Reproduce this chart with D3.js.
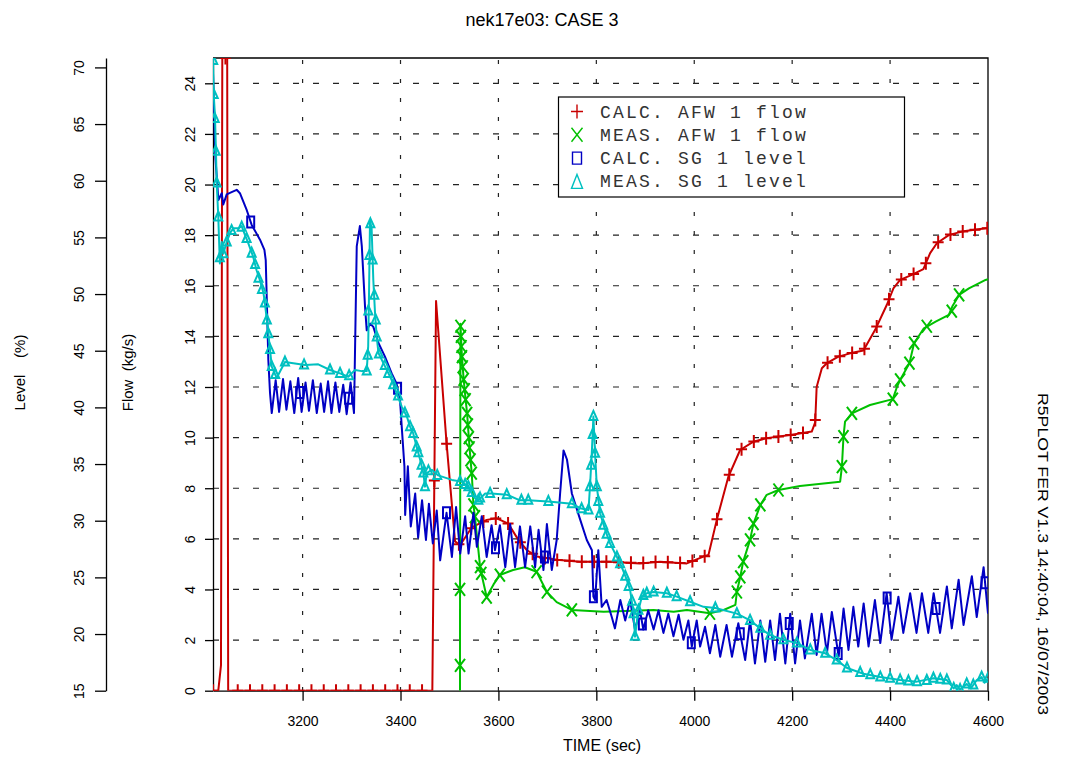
<!DOCTYPE html>
<html lang="en">
<head>
<meta charset="UTF-8">
<title>nek17e03: CASE 3</title>
<script src="https://cdn.jsdelivr.net/npm/d3@7"></script>
<style>
    body { margin: 0; background: #ffffff; }
    svg text { font-family: "Liberation Sans", Arial, sans-serif; fill: #000; }
</style>
</head>
<body>
<script>
    // ---- data: [time (s), value] ----
    // CALC. AFW 1 flow (kg/s)
    var calcFlow = [[3017,0],[3027.8,0],[3033.3,1],[3036,25],[3046,25],[3048,0],[3465,0],[3472.6,15.4],
        [3494,9.8],[3511.4,5.9],[3521.6,5.75],[3545.5,6.45],[3576,6.75],[3596.6,6.81],[3620.3,6.6],
        [3640.7,5.96],[3657.9,5.56],[3678.3,5.3],[3719,5.17],[3766.8,5.1],[3828,5.1],[3889,5.03],
        [3930,5.1],[3984.8,5.03],[4018.7,5.3],[4029,5.36],[4046,6.75],[4069.8,8.46],[4093.7,9.51],
        [4121,9.84],[4148,9.98],[4196,10.1],[4240,10.24],[4247,10.6],[4250,12.0],[4260.6,12.74],
        [4270.8,12.94],[4294.5,13.2],[4320.4,13.34],[4345.5,13.44],[4369.5,14.26],[4393.4,15.25],
        [4406.8,15.9],[4420.5,16.23],[4444.4,16.43],[4468,16.66],[4481.8,17.29],[4495.5,17.68],
        [4520.6,18.01],[4547,18.14],[4572.3,18.21],[4600,18.28]];

    // MEAS. AFW 1 flow (kg/s)
    var measFlow = [[3521.5,0],[3521.6,4.0],[3522.5,14.5],[3523.5,14.0],[3525.5,13.2],[3529,12.3],
        [3533,11.5],[3536,10.96],[3539.5,10.0],[3543,9.12],[3545.5,8.6],[3549,7.34],[3552,6.88],
        [3562.5,4.9],[3565,4.64],[3576,3.7],[3590,4.2],[3603,4.57],[3630,4.77],[3654,4.88],[3678,4.7],
        [3699,3.9],[3719,3.5],[3750,3.19],[3815,3.12],[3917,3.19],[3958,3.12],[3985,3.19],[4032,3.06],
        [4060,3.19],[4084,3.39],[4087,3.9],[4094,4.5],[4100,5.1],[4114,5.96],[4121,6.6],[4135,7.34],
        [4148,7.74],[4172,7.93],[4216,8.09],[4298,8.26],[4301.6,8.85],[4304.8,10.04],[4308,10.63],
        [4322,10.96],[4359,11.29],[4405.6,11.52],[4414,12.0],[4420.5,12.28],[4439.5,12.94],[4449,13.73],
        [4469,14.32],[4493,14.58],[4520,14.85],[4527,15.18],[4541,15.64],[4561,15.9],[4595,16.23],[4600,16.26]];
    var measFlowMarks = [[3521.6,1.0],[3521.6,4.0],[3522.5,14.4],[3523.5,14.0],[3524.5,13.6],[3525.5,13.2],
        [3527,12.8],[3529,12.3],[3531,11.9],[3533,11.5],[3536,10.96],[3537.5,10.5],[3539.5,10.0],
        [3541,9.6],[3543,9.12],[3545.5,8.6],[3549,7.34],[3552,6.88],[3562.5,4.9],[3565,4.64],[3576,3.7],
        [3603,4.57],[3678,4.7],[3699,3.9],[3750,3.19],[4032,3.06],[4087,3.9],[4094,4.5],[4100,5.1],
        [4114,5.96],[4121,6.6],[4135,7.34],[4172,7.93],[4301.6,8.85],[4304.8,10.04],[4322,10.96],
        [4405.6,11.52],[4420.5,12.28],[4439.5,12.94],[4449,13.73],[4475,14.4],[4526,15.0],[4541,15.64]];

    // CALC. SG 1 level (%)
    var calcLevel = [[3017,69.5],[3022,62],[3028,58.3],[3034.8,58.9],[3038,57.9],[3045,58.8],[3055,59.0],
        [3065.4,59.2],[3072,58.9],[3086,57.4],[3096,56.1],[3113,54.8],[3122,53.9],[3124.7,53.0],
        [3126.7,49.8],[3130,44.2],[3133.5,41.25],[3137,39.5],[3145,42.4],[3152,39.6],[3160,42.5],
        [3167,39.8],[3175,42.3],[3183,39.5],[3191,42.6],[3198,39.6],[3206,42.2],[3213,39.7],[3221,42.4],
        [3229,39.5],[3237,42.1],[3244,39.6],[3252,42.3],[3259,39.5],[3267,42.2],[3275,39.6],[3283,42.0],
        [3290,39.4],[3298,42.2],[3305,39.5],[3310.6,54.2],[3317,56.0],[3321,54.2],[3327.5,48.9],
        [3331,46.8],[3338,47.4],[3344.5,47.1],[3354.7,45.7],[3368,44.5],[3382,43.0],[3392,42.1],
        [3399,40.66],[3402.5,38.3],[3408,34.8],[3409.5,30.5],[3415,34.8],[3421,29.5],[3430,32.4],
        [3436,28.5],[3444,31.8],[3452,28.3],[3458,31.5],[3466,28.0],[3474,30.9],[3481,26.5],[3494,30.7],
        [3505,26.8],[3513.5,31.2],[3522,27.1],[3532,30.4],[3539,27.1],[3549,30.7],[3556,27.7],[3566,30.4],
        [3576,26.8],[3586,29.6],[3593,27.4],[3603,29.6],[3614,25.9],[3624,29.7],[3634,25.9],[3644,29.5],
        [3654.5,25.9],[3665,29.5],[3675,25.9],[3682,29.2],[3692,25.65],[3699,29.7],[3709,25.65],
        [3719,28.3],[3726,32.4],[3733,36.2],[3740,35.4],[3750,32.4],[3767,30.1],[3780.5,28.3],[3791,27.4],
        [3794,23.3],[3797.5,23.0],[3804,27.4],[3811,22.4],[3821,23.0],[3831.5,21.5],[3838,20.5],[3849,23.0],
        [3859,21.2],[3869,23.0],[3879,20.4],[3889,22.1],[3896,20.4],[3906,22.1],[3917,20.4],[3927,22.1],
        [3937,20.1],[3947,21.8],[3957.5,19.8],[3968,21.7],[3978,19.5],[3988,21.2],[3995,18.9],[4005,21.2],
        [4012,18.9],[4022,20.65],[4032,18.3],[4043,20.8],[4053,18.0],[4066,20.8],[4077,18.0],[4090,20.95],
        [4104,17.7],[4114,21.2],[4124,17.4],[4135,21.2],[4145,17.55],[4155,21.2],[4165,17.7],[4175,21.8],
        [4186,17.4],[4196,21.8],[4206,17.4],[4216,21.2],[4226,17.85],[4240,21.8],[4250,18.15],[4260,21.8],
        [4271,18.3],[4281,21.95],[4295,18.0],[4305,22.25],[4315,18.6],[4325,22.4],[4335,18.9],[4346,22.7],
        [4356,18.9],[4369,23.0],[4380,19.2],[4393,23.6],[4403,19.5],[4417,23.3],[4427,20.1],[4441,23.6],
        [4454,20.1],[4465,23.6],[4478,20.1],[4489,23.6],[4502,20.1],[4516,24.2],[4526,20.5],[4540,24.8],
        [4550,20.8],[4567,25.1],[4577,21.5],[4591,25.9],[4600,21.8]];

    // MEAS. SG 1 level (%)
    var measLevel = [[3017,70.9],[3018.5,67.6],[3021,65.7],[3023,62.7],[3024.6,59.8],[3027.8,56.8],
        [3031,52.7],[3034.8,54.6],[3038,53.55],[3045,54.6],[3052,55.4],[3058.5,55.8],[3068.7,55.8],
        [3075.6,56.0],[3082.4,55.2],[3089,54.5],[3099,53.3],[3106,52.1],[3113,51.2],[3120,50.1],
        [3123,49.2],[3127,47.7],[3130,46.5],[3133.5,45.1],[3137,43.6],[3147,42.6],[3164,44.0],[3181,43.9],
        [3205,43.75],[3232,43.8],[3256,43.3],[3276.5,43.0],[3293.4,42.7],[3307,43.3],[3321,43.2],
        [3331,43.2],[3334,45.4],[3335.7,50.1],[3337.7,56.5],[3341,55.8],[3344.5,51.2],[3348,48.3],
        [3351.4,46.2],[3355,44.8],[3365,43.9],[3372,43.3],[3382,42.4],[3392,41.25],[3402.5,40.07],
        [3413,39.2],[3419.5,38.3],[3426,37.7],[3433,36.5],[3440,35.4],[3446.6,34.2],[3450,33.0],
        [3453.6,34.2],[3464,34.5],[3477,34.0],[3505,33.6],[3525,33.45],[3538.6,33.0],[3549,32.1],
        [3559,31.8],[3573,32.4],[3586,32.4],[3617,32.3],[3644,31.8],[3661,31.8],[3702,31.7],[3750,31.5],
        [3767,31.1],[3784,30.95],[3787,33.0],[3790.7,35.95],[3794,39.2],[3797.4,35.95],[3801,33.0],
        [3807.6,30.66],[3818,29.2],[3828,28.0],[3842,26.8],[3852,25.9],[3862,24.8],[3869,23.9],[3876,21.8],
        [3879,19.77],[3886,22.1],[3893,23.3],[3903,23.6],[3917,23.7],[3944,23.6],[3964,23.3],[3991.5,22.85],
        [4019,22.4],[4043,22.3],[4087,21.8],[4114,21.2],[4135,20.5],[4155,19.9],[4182,19.5],[4209.5,19.2],
        [4237,18.6],[4267.5,18.3],[4291,17.7],[4312,17.0],[4345.5,16.5],[4380,16.2],[4420.5,15.94],
        [4455,15.8],[4488.5,16.1],[4516,15.94],[4530,15.2],[4536,15.5],[4543,15.1],[4556.5,15.6],
        [4565,15.2],[4577,15.94],[4587,16.2],[4593,15.7],[4600,16.1]];
    var measLevelMarks = [[3017.5,70.6],[3018.5,67.6],[3020.5,65.5],[3022.5,62.6],[3024.5,59.8],
        [3027.8,56.8],[3031,53.2],[3038,53.55],[3045,54.6],[3055,55.6],[3075.6,55.9],[3085.6,54.9],
        [3096,53.6],[3103,52.6],[3110,51.4],[3117,50.4],[3123,49.2],[3127,47.7],[3130,46.5],[3133.5,45.1],
        [3137,43.6],[3144,42.9],[3164,44.0],[3203,43.75],[3256,43.3],[3276.5,43.0],[3295,42.8],[3331,43.2],
        [3333,44.6],[3334.3,48.5],[3336.5,53.4],[3338.5,56.2],[3343,53.0],[3346.5,49.9],[3349.4,47.7],
        [3351.4,46.2],[3356,44.7],[3368,43.7],[3375,43.0],[3385,42.0],[3395,41.0],[3409,39.5],[3419.5,38.3],
        [3426,37.7],[3433,36.5],[3436.5,36.0],[3443,34.9],[3446.6,34.2],[3450,33.0],[3457,34.4],[3475,34.0],
        [3521.6,33.45],[3532,33.2],[3538.6,33.0],[3545.5,32.5],[3559,31.8],[3562.5,32.0],[3583,32.4],
        [3617,32.3],[3647,31.8],[3661,31.8],[3702,31.7],[3750,31.5],[3770,31.05],[3784,30.95],[3787,33.0],
        [3789.5,34.9],[3792.5,37.6],[3794,39.2],[3797.4,35.95],[3801,33.0],[3804,31.7],[3807.6,30.66],
        [3814,29.6],[3821,28.8],[3828,28.0],[3842,26.8],[3848.5,26.2],[3859,25.1],[3866,24.2],[3873,22.9],
        [3876,21.8],[3879,19.8],[3886,22.1],[3896,23.4],[3903,23.6],[3917,23.7],[3944,23.6],[3964,23.3],
        [3991.5,22.85],[4043,22.3],[4087,21.8],[4114,21.2],[4135,20.5],[4155,19.9],[4182,19.5],[4209.5,19.2],
        [4237,18.6],[4267.5,18.3],[4291,17.7],[4312,17.0],[4339,16.6],[4359.5,16.4],[4380,16.2],[4400,16.1],
        [4420.5,15.94],[4437.5,15.85],[4455,15.8],[4475,15.9],[4488.5,16.1],[4502.5,16.0],[4516,15.94],
        [4530,15.2],[4543,15.1],[4556.5,15.6],[4570,15.5],[4587,16.2],[4600,16.1]];

    var timeTicks = [3200, 3400, 3600, 3800, 4000, 4200, 4400, 4600];
    var flowTicks = [0, 2, 4, 6, 8, 10, 12, 14, 16, 18, 20, 22, 24];
    var levelTicks = [15, 20, 25, 30, 35, 40, 45, 50, 55, 60, 65, 70];
    var legendLabels = ["CALC. AFW 1 flow", "MEAS. AFW 1 flow", "CALC. SG 1 level", "MEAS. SG 1 level"];

    // ---- page ----
    var widthSVG = 1085, heightSVG = 758;
    var svg = d3.select("body").append("svg")
        .attr("width", widthSVG)
        .attr("height", heightSVG);

    var plot = {left: 213, right: 988, top: 58, bottom: 690.7};
    var red = "#c80000", green = "#00c000", blue = "#0000c4", cyan = "#00c0c0";

    var scaleX = d3.scaleLinear().domain([3017, 4600]).range([plot.left, plot.right]);
    var scaleFlow = d3.scaleLinear().domain([0, 25]).range([plot.bottom, plot.top]);
    var scaleLevel = d3.scaleLinear().domain([15, 70.83]).range([plot.bottom, plot.top]);

    // dashed grid
    var grid = svg.append("g").attr("stroke", "#222").attr("stroke-width", 1.2);
    grid.selectAll(".gh").data(flowTicks.slice(1)).enter().append("line")
        .attr("x1", plot.left).attr("x2", plot.right)
        .attr("y1", function (d) { return scaleFlow(d); })
        .attr("y2", function (d) { return scaleFlow(d); })
        .attr("stroke-dasharray", "6,14");
    grid.selectAll(".gv").data(timeTicks.slice(0, -1)).enter().append("line")
        .attr("x1", function (d) { return scaleX(d); })
        .attr("x2", function (d) { return scaleX(d); })
        .attr("y1", plot.top).attr("y2", plot.bottom)
        .attr("stroke-dasharray", "4,15")
        .attr("stroke-dashoffset", -2);

    // frame top / right
    svg.append("path")
        .attr("d", "M" + plot.left + "," + plot.top + "H" + plot.right + "V" + plot.bottom)
        .attr("fill", "none").attr("stroke", "#000").attr("stroke-width", 1.3);

    // axes
    function styleAxis(g) {
        g.attr("font-size", 14).attr("font-family", null);
        g.selectAll("path, line").attr("stroke", "#000").attr("stroke-width", 1.3);
    }
    var gX = svg.append("g")
        .attr("transform", "translate(0," + plot.bottom + ")")
        .call(d3.axisBottom(scaleX).tickValues(timeTicks).tickSize(10).tickSizeOuter(0).tickFormat(d3.format("d")));
    styleAxis(gX);
    gX.selectAll("text").attr("y", 35).attr("dy", null);

    var gFlow = svg.append("g")
        .attr("transform", "translate(" + plot.left + ",0)")
        .call(d3.axisLeft(scaleFlow).tickValues(flowTicks).tickSize(8).tickSizeOuter(0));
    styleAxis(gFlow);
    gFlow.selectAll("text").attr("transform", "rotate(-90)")
        .attr("x", 0).attr("y", -18).attr("dy", null).attr("text-anchor", "middle");

    var gLevel = svg.append("g")
        .attr("transform", "translate(106,0)")
        .call(d3.axisLeft(scaleLevel).tickValues(levelTicks).tickSize(11).tickSizeOuter(0));
    styleAxis(gLevel);
    gLevel.selectAll("text").attr("transform", "rotate(-90)")
        .attr("x", 0).attr("y", -22).attr("dy", null).attr("text-anchor", "middle");

    // clip for the curves
    svg.append("clipPath").attr("id", "plotClip").append("rect")
        .attr("x", plot.left).attr("y", plot.top)
        .attr("width", plot.right - plot.left).attr("height", plot.bottom - plot.top);
    var area = svg.append("g").attr("clip-path", "url(#plotClip)");

    // marker shapes
    var shapes = {
        plus: "M-5.5,0H5.5M0,-6.5V6.5",
        cross: "M-5,-6.5L5,6.5M5,-6.5L-5,6.5",
        box: "M-3.5,-5.5H3.5V5.5H-3.5Z",
        tri: "M0,-5.5L4,3.5H-4Z"
    };

    // value on a curve at time t (used for the evenly spaced CALC markers)
    function valueAt(series, t) {
        var i = d3.bisector(function (d) { return d[0]; }).left(series, t);
        if (i <= 0) return series[0][1];
        if (i >= series.length) return series[series.length - 1][1];
        var a = series[i - 1], b = series[i];
        return a[1] + (b[1] - a[1]) * (t - a[0]) / (b[0] - a[0]);
    }

    function drawSeries(series, marks, scaleY, color, shape) {
        var line = d3.line()
            .x(function (d) { return scaleX(d[0]); })
            .y(function (d) { return scaleY(d[1]); });
        area.append("path").datum(series)
            .attr("d", line)
            .attr("fill", "none").attr("stroke", color).attr("stroke-width", 2)
            .attr("stroke-linejoin", "round");
        area.selectAll(null).data(marks).enter().append("path")
            .attr("d", shapes[shape])
            .attr("transform", function (d) {
                return "translate(" + scaleX(d[0]) + "," + scaleY(d[1]) + ")";
            })
            .attr("fill", "none").attr("stroke", color).attr("stroke-width", 2);
    }

    var calcFlowMarks = d3.range(3017.3, 4601, 25.1).map(function (t) { return [t, valueAt(calcFlow, t)]; });
    var calcLevelMarks = d3.range(3094, 4601, 100).map(function (t) { return [t, valueAt(calcLevel, t)]; });

    drawSeries(calcFlow, calcFlowMarks, scaleFlow, red, "plus");
    drawSeries(measFlow, measFlowMarks, scaleFlow, green, "cross");
    drawSeries(calcLevel, calcLevelMarks, scaleLevel, blue, "box");
    drawSeries(measLevel, measLevelMarks, scaleLevel, cyan, "tri");

    // legend
    var legend = svg.append("g").attr("transform", "translate(558.5,97)");
    legend.append("rect").attr("width", 346).attr("height", 100)
        .attr("fill", "#fff").attr("stroke", "#000").attr("stroke-width", 1.2);
    var legendColors = [red, green, blue, cyan];
    var legendShapes = ["M-6,0H6M0,-7V7", "M-5.5,-7L5.5,7M5.5,-7L-5.5,7", "M-4.5,-6H4.5V6H-4.5Z", "M0,-7L5.5,7H-5.5Z"];
    var rows = legend.selectAll(".row").data(legendLabels).enter().append("g")
        .attr("transform", function (d, i) { return "translate(0," + (20.5 + i * 23.3) + ")"; });
    rows.append("path")
        .attr("d", function (d, i) { return legendShapes[i]; })
        .attr("transform", "translate(18.5,-6)")
        .attr("fill", "none")
        .attr("stroke", function (d, i) { return legendColors[i]; })
        .attr("stroke-width", 1.4);
    rows.append("text")
        .attr("x", 41.5)
        .style("font-family", "'Liberation Mono', 'DejaVu Sans Mono', monospace")
        .style("font-size", "18px")
        .style("letter-spacing", "2.2px")
        .style("fill", "#333")
        .text(function (d) { return d; });

    // titles
    svg.append("text").attr("x", 542).attr("y", 26).attr("text-anchor", "middle")
        .style("font-size", "18px").text("nek17e03: CASE 3");
    svg.append("text").attr("x", 602).attr("y", 751).attr("text-anchor", "middle")
        .style("font-size", "16px").text("TIME (sec)");
    svg.append("text").attr("transform", "translate(25,372.5) rotate(-90)").attr("text-anchor", "middle")
        .style("font-size", "15px").style("white-space", "pre").text("Level    (%)");
    svg.append("text").attr("transform", "translate(133,372.5) rotate(-90)").attr("text-anchor", "middle")
        .style("font-size", "15px").style("white-space", "pre").text("Flow  (kg/s)");
    svg.append("text").attr("transform", "translate(1038,554) rotate(90)").attr("text-anchor", "middle")
        .attr("textLength", 322).attr("lengthAdjust", "spacingAndGlyphs")
        .style("font-size", "15px").text("R5PLOT FER V1.3 14:40:04, 16/07/2003");
</script>
</body>
</html>
